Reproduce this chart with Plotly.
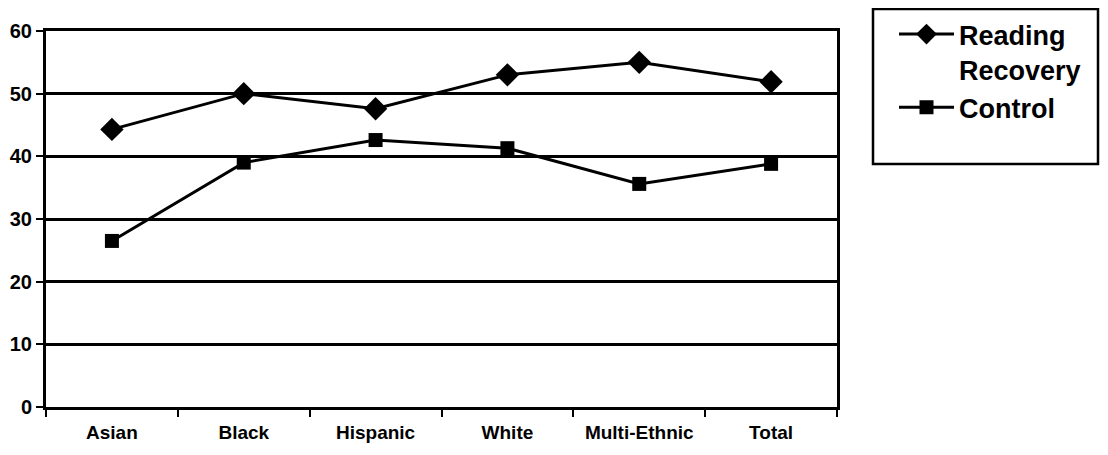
import plotly.graph_objects as go

categories = ["Asian", "Black", "Hispanic", "White", "Multi-Ethnic", "Total"]
reading_recovery = [44.3, 50.0, 47.6, 53.0, 55.0, 51.9]
control = [26.5, 39.0, 42.6, 41.3, 35.6, 38.8]
y_ticks = [0, 10, 20, 30, 40, 50, 60]

OFF = 8  # page body margin in the screenshot
W, H = 1108 - 2 * OFF, 455 - 2 * OFF
L, T = 46 - OFF, 31 - OFF
PR, PB = 837 - OFF, 407 - OFF  # plot right / bottom in figure pixels
R, B = W - PR, H - PB
pw = W - L - R
ph = H - T - B

fig = go.Figure()
fig.add_trace(go.Scatter(
    x=categories, y=reading_recovery, name="Reading<br>Recovery",
    mode="lines+markers",
    line=dict(color="black", width=3),
    marker=dict(symbol="diamond", size=18, color="black"),
))
fig.add_trace(go.Scatter(
    x=categories, y=control, name="Control",
    mode="lines+markers",
    line=dict(color="black", width=3),
    marker=dict(symbol="square", size=14, color="black"),
))

fig.update_layout(
    width=W, height=H,
    margin=dict(l=L, r=R, t=T, b=B, autoexpand=False),
    paper_bgcolor="white", plot_bgcolor="white",
    font=dict(family="Liberation Sans, Arial, sans-serif", color="black"),
    showlegend=True,
    legend=dict(
        xref="container", yref="container",
        x=(894 - OFF) / W, y=1 - (10 - OFF) / H,
        xanchor="left", yanchor="top",
        font=dict(size=27, family="Liberation Sans, Arial, sans-serif", color="black", weight="bold"),
        bgcolor="rgba(0,0,0,0)", borderwidth=0,
        valign="top", tracegroupgap=0,
        itemwidth=55,
    ),
    shapes=[dict(
        type="rect", xref="paper", yref="paper",
        x0=(873 - OFF - L) / pw, x1=(1098 - OFF - L) / pw,
        y0=(PB - (164 - OFF)) / ph, y1=(PB - (9 - OFF)) / ph,
        line=dict(color="black", width=2.5), fillcolor="rgba(0,0,0,0)",
    )],
)
fig.update_xaxes(
    type="category", range=[-0.5, 5.5], automargin=False,
    showgrid=False, showline=True, linecolor="black", linewidth=3,
    mirror=True, ticks="outside", tickson="boundaries", ticklen=7,
    tickwidth=2, tickcolor="black", ticklabelstandoff=6,
    tickfont=dict(size=19, weight="bold"),
)
fig.update_yaxes(
    range=[0, 60], tickvals=y_ticks, automargin=False,
    showgrid=True, gridcolor="black", gridwidth=2.5,
    showline=True, linecolor="black", linewidth=3, mirror=True,
    ticks="outside", ticklen=7, tickwidth=2, tickcolor="black",
    tickfont=dict(size=20, weight="bold"), zeroline=False,
)
fig.write_html("out.html")
